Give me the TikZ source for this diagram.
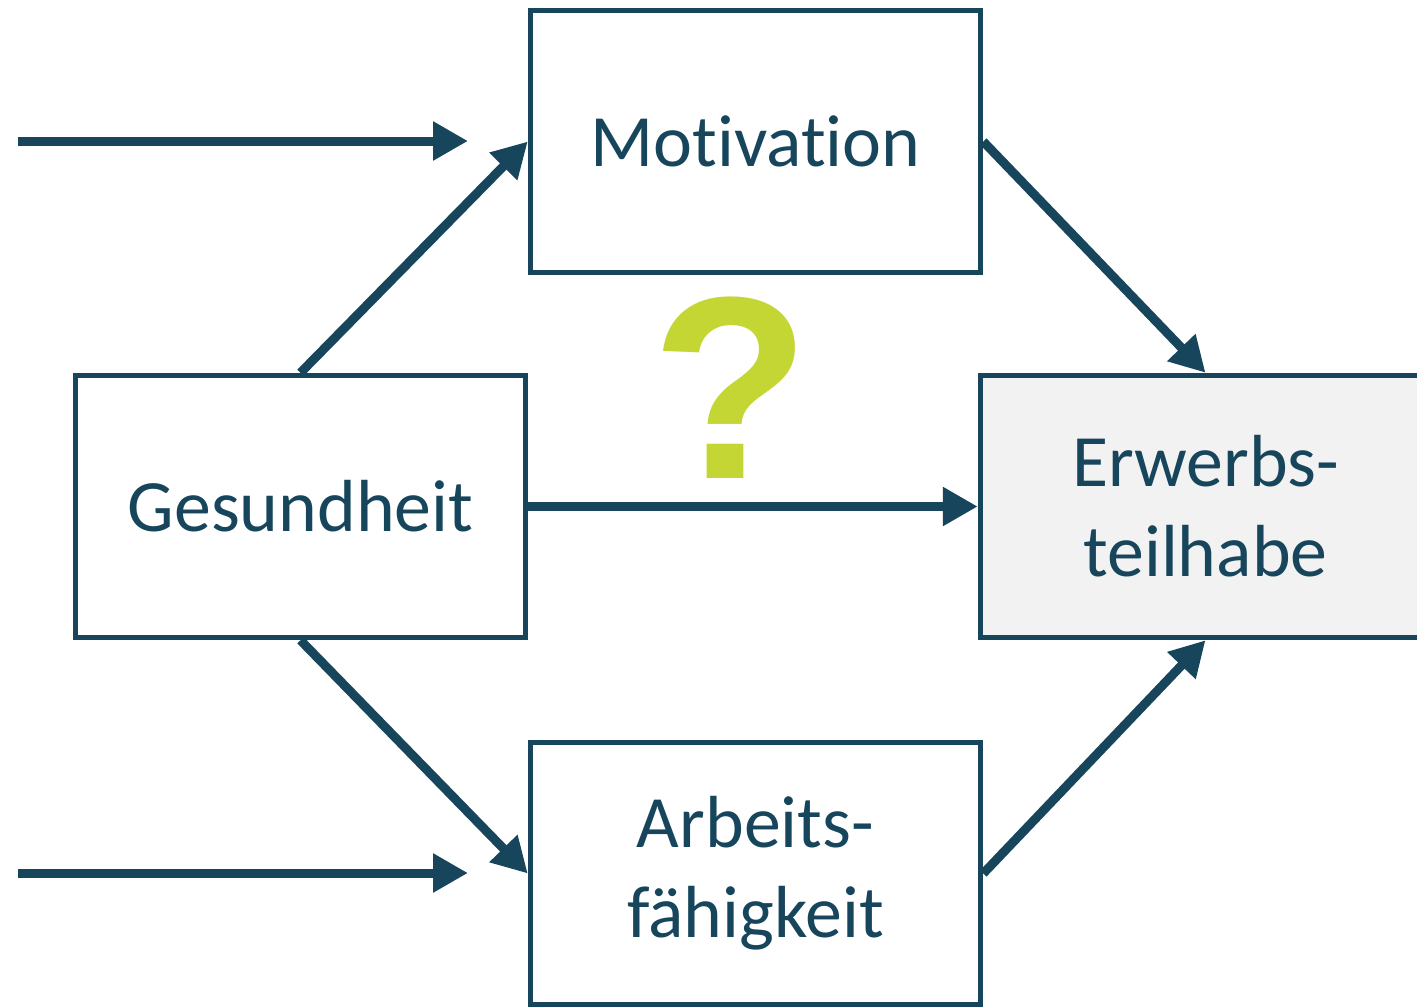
\documentclass[tikz,border=0pt]{standalone}
\usepackage{fontspec}
\setmainfont{Carlito}[Ligatures=NoCommon]
\newfontfamily\qfont{Liberation Sans}
\usepackage{xcolor}
\usetikzlibrary{arrows.meta,positioning}
\definecolor{fmteal}{HTML}{17465C}
\definecolor{fmgray}{HTML}{F2F2F2}
\definecolor{fmlime}{HTML}{C3D633}
\tikzset{
 fm box/.style={draw=fmteal,line width=0.055cm,minimum width=4.5cm,
                minimum height=2.62cm,align=center,text=fmteal,
                font=\fontsize{21}{25.6}\selectfont},
 fm target/.style={fm box,fill=fmgray},
 fm arrow/.style={draw=fmteal,line width=0.09cm,
                  -{Triangle[length=0.35cm,width=0.37cm]}},
 fm question/.style={text=fmlime,font=\qfont\bfseries\fontsize{74}{80}\selectfont}
}
\begin{document}
\begin{tikzpicture}
 \clip (0,0) rectangle (14.17,10.06);
 \node[fm box] (ges) at (3.005,4.995) {Gesundheit};
 \node[fm box] (mot) at (7.555,8.645) {Motivation};
 \node[fm box] (arb) at (7.555,1.325) {Arbeits-\\fähigkeit};
 \node[fm target] (erw) at (12.055,4.995) {Erwerbs-\\teilhabe};

 % free inputs from the left
 \coordinate (inA) at (0.18,8.65);
 \coordinate (inAend) at (4.68,8.65);
 \coordinate (inB) at (0.18,1.33);
 \coordinate (inBend) at (4.68,1.33);
 \draw[fm arrow] (inA) -- (inAend);
 \draw[fm arrow] (inB) -- (inBend);

 \draw[fm arrow] (ges.north) -- (mot.west);
 \draw[fm arrow] (ges.south) -- (arb.west);
 \draw[fm arrow] (ges.east) -- (erw.west);
 \draw[fm arrow] (mot.east) -- (erw.north);
 \draw[fm arrow] (arb.east) -- (erw.south);

 \node[fm question] (q) at (7.31,6.18) {?};
\end{tikzpicture}
\end{document}
